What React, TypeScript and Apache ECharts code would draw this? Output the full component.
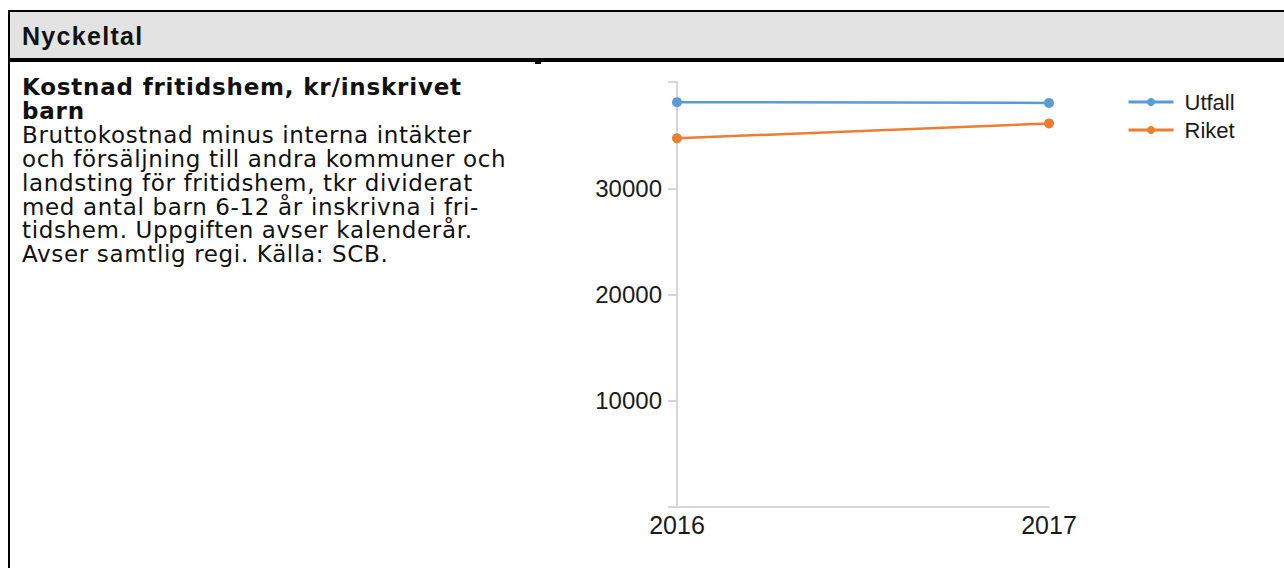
import React, { useEffect, useRef } from "react";
import * as echarts from "echarts";

const headerTitle = "Nyckeltal";
const titleLines = ["Kostnad fritidshem, kr/inskrivet", "barn"];
const bodyLines = [
  "Bruttokostnad minus interna intäkter",
  "och försäljning till andra kommuner och",
  "landsting för fritidshem, tkr dividerat",
  "med antal barn 6-12 år inskrivna i fri-",
  "tidshem. Uppgiften avser kalenderår.",
  "Avser samtlig regi. Källa: SCB.",
];
const years = ["2016", "2017"];
const utfall = [38100, 38030];
const riket = [34700, 36100];
const yTicks = [10000, 20000, 30000];

export default function App() {
  const ref = useRef<HTMLDivElement>(null);
  useEffect(() => {
    if (!ref.current) return;
    const chart = echarts.init(ref.current, undefined, { renderer: "svg" });
    const axisColor = "#d6d6d6";
    chart.setOption({
      animation: false,
      grid: { left: 117, right: 235, top: 18, bottom: 61 },
      legend: {
        orient: "vertical",
        left: 562,
        top: 22,
        itemWidth: 45,
        itemHeight: 10,
        itemGap: 6,
        lineStyle: { width: 3 },
        textStyle: {
          fontFamily: "Liberation Sans, Arial, sans-serif",
          fontSize: 22,
          color: "#1a1a1a",
          padding: [0, 0, 0, 6],
        },
        data: ["Utfall", "Riket"],
      },
      xAxis: {
        type: "category",
        data: years,
        boundaryGap: false,
        axisLine: { lineStyle: { color: axisColor, width: 2 } },
        axisTick: { show: false },
        axisLabel: {
          fontFamily: "Liberation Sans, Arial, sans-serif",
          fontSize: 25,
          color: "#1a1a1a",
          margin: 5,
        },
        splitLine: { show: false },
      },
      yAxis: {
        type: "value",
        min: 0,
        max: 40000,
        interval: 10000,
        axisLine: { show: true, lineStyle: { color: axisColor, width: 2 } },
        axisTick: { show: true, length: 9, lineStyle: { color: axisColor, width: 2 } },
        axisLabel: {
          fontFamily: "Liberation Sans, Arial, sans-serif",
          fontSize: 24,
          color: "#1a1a1a",
          margin: 15,
          formatter: (v: number) => (yTicks.includes(v) ? String(v) : ""),
        },
        splitLine: { show: false },
      },
      series: [
        {
          name: "Utfall",
          type: "line",
          data: utfall,
          symbol: "circle",
          symbolSize: 10,
          lineStyle: { width: 2.5, color: "#5b9bd5" },
          itemStyle: { color: "#5b9bd5" },
        },
        {
          name: "Riket",
          type: "line",
          data: riket,
          symbol: "circle",
          symbolSize: 10,
          lineStyle: { width: 2.5, color: "#ed7d31" },
          itemStyle: { color: "#ed7d31" },
        },
      ],
    });
    return () => chart.dispose();
  }, []);

  const abs = (s: React.CSSProperties): React.CSSProperties => ({ position: "absolute", ...s });

  return (
    <div style={{ position: "fixed", left: 0, top: 0, width: 1284, height: 568, overflow: "hidden", background: "#fff" }}>
      <div style={abs({ left: 8, top: 10, width: 1276, height: 2, background: "#000" })} />
      <div style={abs({ left: 8, top: 10, width: 2, height: 558, background: "#000" })} />
      <div style={abs({ left: 10, top: 12, width: 1274, height: 46, background: "#e3e3e3" })} />
      <div style={abs({ left: 10, top: 58, width: 1274, height: 4, background: "#000" })} />
      <div style={abs({ left: 535, top: 62, width: 6, height: 2, background: "#000" })} />
      <div
        style={abs({
          left: 22,
          top: 21,
          fontFamily: "Liberation Sans, Arial, sans-serif",
          fontWeight: "bold",
          fontSize: 25,
          lineHeight: "30px",
          letterSpacing: 1.3,
          color: "#111",
          whiteSpace: "nowrap",
        })}
      >
        {headerTitle}
      </div>
      <div
        style={abs({
          left: 22,
          top: 76,
          fontFamily: "DejaVu Sans, Verdana, sans-serif",
          fontSize: 23,
          lineHeight: "23.9px",
          color: "#111",
          whiteSpace: "nowrap",
        })}
      >
        {titleLines.map((l, i) => (
          <div key={"t" + i} style={{ fontWeight: "bold", letterSpacing: 0.8 }}>
            {l}
          </div>
        ))}
        {bodyLines.map((l, i) => (
          <div key={"b" + i} style={{ letterSpacing: 0.65 }}>
            {l}
          </div>
        ))}
      </div>
      <div ref={ref} style={abs({ left: 560, top: 64, width: 724, height: 504 })} />
    </div>
  );
}
